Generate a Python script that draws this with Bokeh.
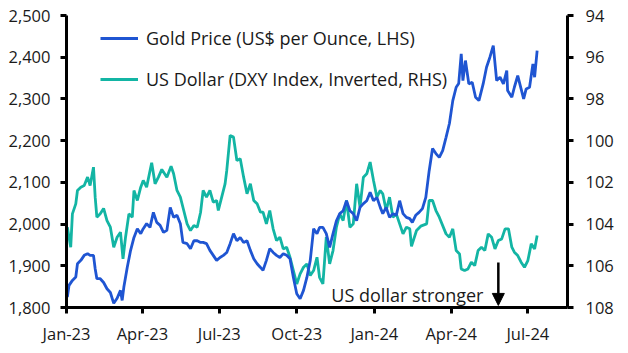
import pandas as pd
from datetime import datetime
from bokeh.plotting import figure
from bokeh.models import (Range1d, LinearAxis, FixedTicker, DatetimeTickFormatter,
                          NumeralTickFormatter, Legend, LegendItem, Label, Arrow, NormalHead)
from bokeh.embed import file_html
from bokeh.resources import INLINE

# ---------------- data ----------------
gold_dates = [
    "2023-01-02", "2023-01-04", "2023-01-08", "2023-01-12", "2023-01-14", "2023-01-18", "2023-01-22",
    "2023-01-26", "2023-01-29", "2023-02-02", "2023-02-04", "2023-02-06", "2023-02-10", "2023-02-14",
    "2023-02-18", "2023-02-22", "2023-02-26", "2023-03-02", "2023-03-06", "2023-03-08", "2023-03-10",
    "2023-03-14", "2023-03-18", "2023-03-22", "2023-03-26", "2023-03-30", "2023-04-02", "2023-04-06",
    "2023-04-10", "2023-04-14", "2023-04-18", "2023-04-22", "2023-04-26", "2023-04-30", "2023-05-04",
    "2023-05-08", "2023-05-12", "2023-05-16", "2023-05-19", "2023-05-24", "2023-05-28", "2023-06-01",
    "2023-06-05", "2023-06-09", "2023-06-12", "2023-06-16", "2023-06-20", "2023-06-24", "2023-06-28",
    "2023-07-02", "2023-07-06", "2023-07-10", "2023-07-14", "2023-07-18", "2023-07-22", "2023-07-26",
    "2023-07-30", "2023-08-03", "2023-08-07", "2023-08-11", "2023-08-15", "2023-08-19", "2023-08-22",
    "2023-08-26", "2023-08-30", "2023-09-03", "2023-09-07", "2023-09-11", "2023-09-15", "2023-09-19",
    "2023-09-23", "2023-09-27", "2023-10-01", "2023-10-05", "2023-10-09", "2023-10-13", "2023-10-17",
    "2023-10-21", "2023-10-25", "2023-10-28", "2023-11-01", "2023-11-05", "2023-11-09", "2023-11-13",
    "2023-11-17", "2023-11-21", "2023-11-25", "2023-11-29", "2023-12-03", "2023-12-07", "2023-12-11",
    "2023-12-15", "2023-12-19", "2023-12-23", "2023-12-27", "2023-12-31", "2024-01-04", "2024-01-08",
    "2024-01-11", "2024-01-15", "2024-01-19", "2024-01-23", "2024-01-27", "2024-01-31", "2024-02-04",
    "2024-02-08", "2024-02-12", "2024-02-15", "2024-02-19", "2024-02-23", "2024-02-27", "2024-03-02",
    "2024-03-06", "2024-03-10", "2024-03-14", "2024-03-18", "2024-03-22", "2024-03-26", "2024-03-30",
    "2024-04-03", "2024-04-07", "2024-04-10", "2024-04-13", "2024-04-15", "2024-04-18", "2024-04-22",
    "2024-04-26", "2024-04-30", "2024-05-04", "2024-05-09", "2024-05-13", "2024-05-17", "2024-05-21",
    "2024-05-25", "2024-05-29", "2024-06-02", "2024-06-06", "2024-06-07", "2024-06-12", "2024-06-15",
    "2024-06-19", "2024-06-23", "2024-06-26", "2024-06-29", "2024-07-03", "2024-07-07", "2024-07-09",
    "2024-07-12",
]
gold_values = [
    1825, 1853, 1865, 1873, 1905, 1913, 1925, 1929, 1925, 1925, 1893, 1869, 1869, 1860,
    1845, 1836, 1810, 1822, 1841, 1817, 1849, 1896, 1937, 1968, 1989, 1977, 1989, 2001,
    1992, 2028, 2004, 1997, 1980, 1985, 2040, 2016, 2021, 2001, 1956, 1953, 1941, 1960,
    1960, 1956, 1956, 1953, 1937, 1925, 1913, 1920, 1925, 1932, 1953, 1977, 1960, 1968,
    1956, 1960, 1937, 1917, 1905, 1896, 1889, 1913, 1941, 1932, 1925, 1920, 1929, 1925,
    1917, 1872, 1833, 1821, 1841, 1872, 1913, 1989, 1977, 1992, 1992, 1977, 1944, 1977,
    2008, 2025, 2032, 2056, 2032, 2025, 2008, 2040, 2049, 2056, 2076, 2056, 2064, 2040,
    2025, 2040, 2016, 2025, 2021, 2056, 2025, 2016, 2013, 2004, 2021, 2028, 2037, 2064,
    2128, 2181, 2169, 2160, 2176, 2208, 2241, 2296, 2328, 2337, 2408, 2344, 2392, 2336,
    2340, 2304, 2296, 2336, 2376, 2400, 2428, 2344, 2352, 2336, 2368, 2320, 2304, 2328,
    2356, 2324, 2300, 2324, 2328, 2384, 2352, 2416,
]

dxy_dates = [
    "2023-01-02", "2023-01-06", "2023-01-08", "2023-01-12", "2023-01-14", "2023-01-18", "2023-01-22",
    "2023-01-26", "2023-01-29", "2023-02-02", "2023-02-04", "2023-02-06", "2023-02-10", "2023-02-14",
    "2023-02-18", "2023-02-22", "2023-02-26", "2023-03-02", "2023-03-06", "2023-03-09", "2023-03-12",
    "2023-03-16", "2023-03-20", "2023-03-22", "2023-03-26", "2023-03-30", "2023-04-02", "2023-04-06",
    "2023-04-12", "2023-04-16", "2023-04-20", "2023-04-24", "2023-04-30", "2023-05-05", "2023-05-08",
    "2023-05-12", "2023-05-16", "2023-05-20", "2023-05-24", "2023-05-28", "2023-06-01", "2023-06-05",
    "2023-06-09", "2023-06-12", "2023-06-16", "2023-06-20", "2023-06-24", "2023-06-28", "2023-06-30",
    "2023-07-04", "2023-07-08", "2023-07-10", "2023-07-14", "2023-07-18", "2023-07-22", "2023-07-26",
    "2023-07-30", "2023-08-03", "2023-08-07", "2023-08-11", "2023-08-15", "2023-08-19", "2023-08-22",
    "2023-08-26", "2023-08-30", "2023-09-03", "2023-09-07", "2023-09-11", "2023-09-15", "2023-09-19",
    "2023-09-23", "2023-09-27", "2023-10-01", "2023-10-05", "2023-10-09", "2023-10-13", "2023-10-17",
    "2023-10-21", "2023-10-25", "2023-10-28", "2023-11-01", "2023-11-05", "2023-11-09", "2023-11-13",
    "2023-11-17", "2023-11-21", "2023-11-25", "2023-11-29", "2023-12-03", "2023-12-07", "2023-12-11",
    "2023-12-15", "2023-12-19", "2023-12-23", "2023-12-27", "2023-12-31", "2024-01-04", "2024-01-08",
    "2024-01-11", "2024-01-15", "2024-01-19", "2024-01-23", "2024-01-27", "2024-01-31", "2024-02-04",
    "2024-02-08", "2024-02-12", "2024-02-14", "2024-02-20", "2024-02-25", "2024-03-03", "2024-03-06",
    "2024-03-10", "2024-03-14", "2024-03-18", "2024-03-26", "2024-03-30", "2024-04-03", "2024-04-07",
    "2024-04-11", "2024-04-13", "2024-04-17", "2024-04-21", "2024-04-25", "2024-04-29", "2024-05-03",
    "2024-05-07", "2024-05-11", "2024-05-15", "2024-05-19", "2024-05-23", "2024-05-27", "2024-05-31",
    "2024-06-04", "2024-06-08", "2024-06-12", "2024-06-15", "2024-06-19", "2024-06-23", "2024-06-27",
    "2024-07-01", "2024-07-05", "2024-07-09", "2024-07-12",
]
dxy_values = [
    104.15, 105.11, 103.51, 103.03, 102.39, 102.23, 102.15, 101.75, 102.15, 101.27, 102.71, 103.67,
    103.51, 103.25, 103.83, 104.15, 105.11, 104.63, 104.39, 105.67, 104.63, 103.51, 103.67, 102.39,
    102.87, 102.23, 101.91, 102.23, 101.06, 102.07, 101.75, 101.38, 101.75, 101.23, 101.59, 102.39,
    102.71, 103.35, 103.99, 104.31, 104.07, 104.15, 103.43, 102.39, 102.71, 102.39, 102.95, 102.87,
    103.35, 102.71, 102.07, 101.43, 99.75, 99.83, 100.95, 100.87, 101.75, 102.55, 102.07, 102.87,
    103.03, 103.43, 103.43, 103.99, 103.35, 104.23, 104.79, 104.63, 105.19, 105.11, 105.59, 106.23,
    106.87, 106.39, 106.07, 105.91, 106.47, 106.23, 105.59, 106.55, 106.87, 104.63, 105.91, 105.27,
    104.15, 103.51, 103.83, 102.87, 104.15, 103.99, 102.07, 103.19, 101.75, 101.59, 101.03, 101.91,
    102.71, 102.39, 102.55, 103.35, 102.71, 103.67, 103.51, 103.99, 104.47, 104.15, 104.23, 105.07,
    104.31, 104.10, 103.99, 102.87, 102.87, 103.35, 103.67, 104.47, 104.63, 104.23, 105.27, 105.43,
    106.15, 106.23, 106.15, 105.83, 105.99, 105.27, 105.11, 105.27, 104.47, 104.63, 105.19, 104.79,
    104.71, 104.23, 104.23, 105.11, 105.35, 105.51, 105.83, 106.07, 105.75, 104.95, 105.19, 104.55,
]

x_tick_dates = ["2023-01-01", "2023-04-01", "2023-07-01", "2023-10-01",
                "2024-01-01", "2024-04-01", "2024-07-01"]
left_ticks = [1800, 1900, 2000, 2100, 2200, 2300, 2400, 2500]
right_ticks = [94, 96, 98, 100, 102, 104, 106, 108]

gold_label = "Gold Price (US$ per Ounce, LHS)"
dxy_label = "US Dollar (DXY Index, Inverted, RHS)"
note_text = "US dollar stronger"

# ---------------- styling ----------------
GOLD_COLOR = "#1f55d2"
DXY_COLOR = "#13b5a4"
FONT = "Open Sans"
FS = "16.5px"
FS_TEXT = "18px"

gx = pd.to_datetime(gold_dates)
dx = pd.to_datetime(dxy_dates)

p = figure(width=628, height=353, output_backend="svg", toolbar_location=None,
           x_axis_type="datetime",
           x_range=Range1d(datetime(2023, 1, 1), datetime(2024, 8, 17)),
           y_range=Range1d(1800, 2500),
           min_border_left=66, min_border_right=61, min_border_top=15, min_border_bottom=46)
p.extra_y_ranges = {"dxy": Range1d(start=108, end=94)}
p.outline_line_color = None
p.background_fill_color = "white"
p.border_fill_color = "white"
p.xgrid.grid_line_color = None
p.ygrid.grid_line_color = None

r_dxy = p.line(dx, dxy_values, y_range_name="dxy", color=DXY_COLOR, line_width=2.8)
r_gold = p.line(gx, gold_values, color=GOLD_COLOR, line_width=2.8)

right = LinearAxis(y_range_name="dxy")
p.add_layout(right, "right")


def style_axis(ax):
    ax.axis_line_width = 3
    ax.axis_line_color = "black"
    ax.major_tick_line_width = 3
    ax.major_tick_line_color = "black"
    ax.major_tick_out = 6
    ax.major_tick_in = 0
    ax.minor_tick_line_color = None
    ax.major_label_text_font = FONT
    ax.major_label_text_font_size = FS
    ax.major_label_text_color = "#1a1a1a"


for ax in [p.xaxis[0], p.yaxis[0], right]:
    style_axis(ax)

p.xaxis[0].ticker = FixedTicker(ticks=[pd.Timestamp(d).value / 1e6 for d in x_tick_dates])
p.xaxis[0].formatter = DatetimeTickFormatter(months="%b-%y", days="%b-%y", years="%b-%y")
p.xaxis[0].major_label_standoff = 8
p.yaxis[0].ticker = FixedTicker(ticks=left_ticks)
p.yaxis[0].formatter = NumeralTickFormatter(format="0,0")
p.yaxis[0].major_label_standoff = 10
right.ticker = FixedTicker(ticks=right_ticks)
right.major_label_standoff = 12

legend = Legend(items=[LegendItem(label=gold_label, renderers=[r_gold]),
                       LegendItem(label=dxy_label, renderers=[r_dxy])],
                location=(34, 216), orientation="vertical",
                background_fill_alpha=0, border_line_color=None,
                padding=0, margin=0, spacing=17,
                glyph_width=38, glyph_height=20, label_height=20,
                label_standoff=8,
                label_text_font=FONT, label_text_font_size=FS_TEXT, label_text_color="#1a1a1a")
p.add_layout(legend)

p.add_layout(Label(x=datetime(2023, 11, 11), y=1831, text=note_text,
                   text_font=FONT, text_font_size=FS_TEXT, text_color="#1a1a1a",
                   text_baseline="alphabetic"))
p.add_layout(Arrow(end=NormalHead(size=12, fill_color="black", line_color="black"),
                   x_start=datetime(2024, 5, 27), y_start=1908,
                   x_end=datetime(2024, 5, 27), y_end=1805,
                   line_width=2.5, line_color="black"))

open("out.html", "w").write(file_html(p, INLINE))
